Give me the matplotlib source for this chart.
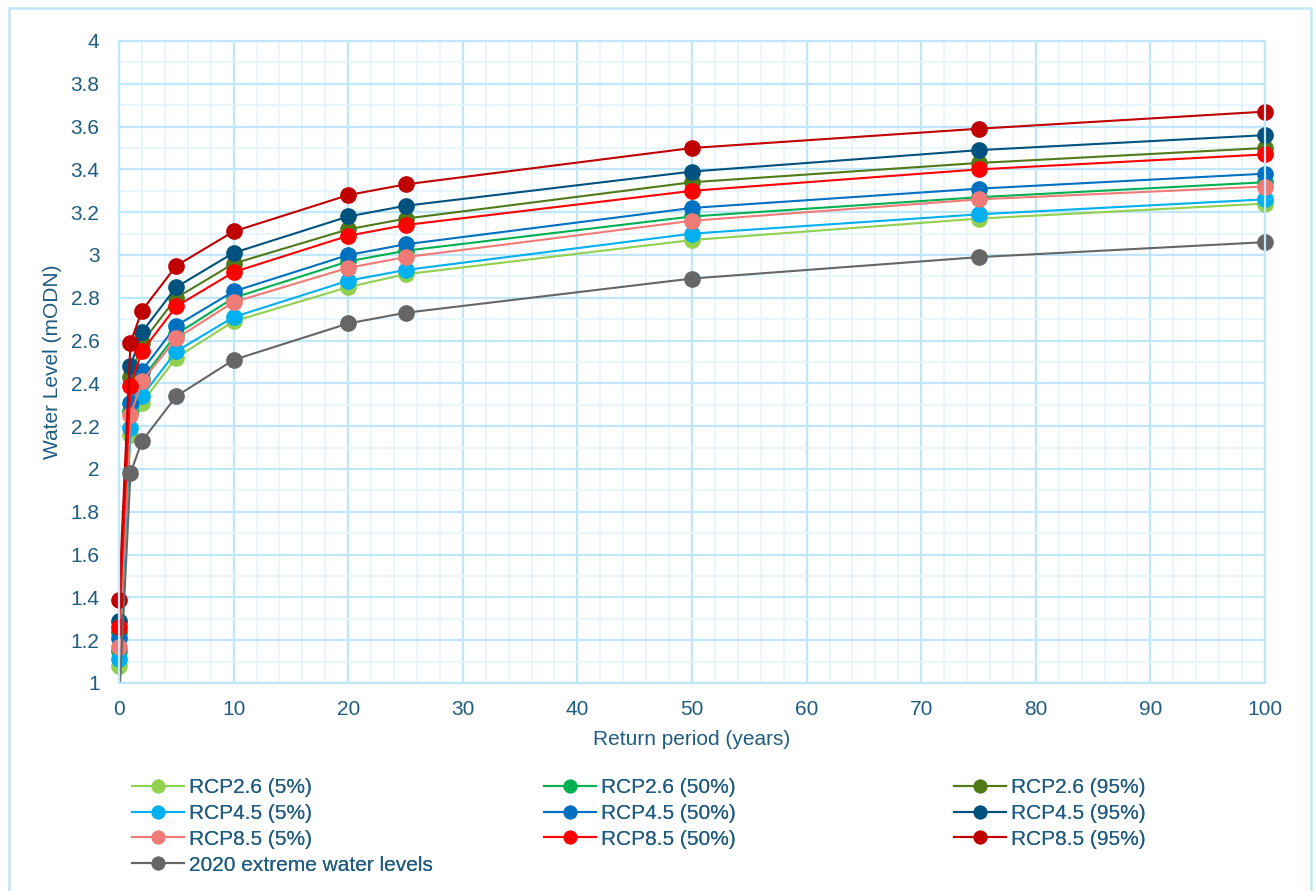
import numpy as np
import matplotlib
matplotlib.use("Agg")
import matplotlib.pyplot as plt
from matplotlib.lines import Line2D
from matplotlib.patches import Rectangle
from matplotlib.ticker import MultipleLocator, FuncFormatter

plt.rcParams['font.family'] = ['Liberation Sans', 'DejaVu Sans']

# return periods (years)
return_period = [0, 1, 2, 5, 10, 20, 25, 50, 75, 100]

# water levels (mODN)
rcp26_5 = [1.08, 2.16, 2.31, 2.52, 2.69, 2.85, 2.91, 3.07, 3.17, 3.24]
rcp26_50 = [1.15, 2.27, 2.42, 2.63, 2.80, 2.97, 3.02, 3.18, 3.27, 3.34]
rcp26_95 = [1.24, 2.43, 2.59, 2.80, 2.96, 3.12, 3.17, 3.34, 3.43, 3.50]
rcp45_5 = [1.11, 2.19, 2.34, 2.55, 2.71, 2.88, 2.93, 3.10, 3.19, 3.26]
rcp45_50 = [1.21, 2.31, 2.46, 2.67, 2.83, 3.00, 3.05, 3.22, 3.31, 3.38]
rcp45_95 = [1.29, 2.48, 2.64, 2.85, 3.01, 3.18, 3.23, 3.39, 3.49, 3.56]
rcp85_5 = [1.17, 2.25, 2.41, 2.61, 2.78, 2.94, 2.99, 3.16, 3.26, 3.32]
rcp85_50 = [1.26, 2.39, 2.55, 2.76, 2.92, 3.09, 3.14, 3.30, 3.40, 3.47]
rcp85_95 = [1.39, 2.59, 2.74, 2.95, 3.11, 3.28, 3.33, 3.50, 3.59, 3.67]
levels_2020 = [0.90, 1.98, 2.13, 2.34, 2.51, 2.68, 2.73, 2.89, 2.99, 3.06]

series = [
    ("RCP2.6 (5%)", rcp26_5, "#92D050"),
    ("RCP2.6 (50%)", rcp26_50, "#00B050"),
    ("RCP2.6 (95%)", rcp26_95, "#4F7A17"),
    ("RCP4.5 (5%)", rcp45_5, "#00B0F0"),
    ("RCP4.5 (50%)", rcp45_50, "#0070C0"),
    ("RCP4.5 (95%)", rcp45_95, "#00527E"),
    ("RCP8.5 (5%)", rcp85_5, "#F07B76"),
    ("RCP8.5 (50%)", rcp85_50, "#FF0000"),
    ("RCP8.5 (95%)", rcp85_95, "#C00000"),
    ("2020 extreme water levels", levels_2020, "#666666"),
]

text_color = "#1F5C80"
major_grid = "#BFE6F9"
minor_grid = "#E3F4FD"

W, H = 1316, 891
fig = plt.figure(figsize=(W / 100, H / 100), dpi=100)
ax = fig.add_axes([119 / W, 1 - 683 / H, (1265 - 119) / W, (683 - 41) / H])
ymin, ymax = 1, 4

for label, vals, col in series:
    x = np.array(return_period, dtype=float)
    y = np.array(vals)
    ax.plot(x, y, color=col, lw=1.5, label=label)
    # markers are not clipped at the axes edge, but points off the scale are hidden
    inside = (y >= ymin) & (y <= ymax)
    ax.plot(x[inside], y[inside], ls='none', marker='o', ms=11,
            mec=col, mfc=col, clip_on=False)

ax.set_xlim(0, 100)
ax.set_ylim(ymin, ymax)
ax.xaxis.set_major_locator(MultipleLocator(10))
ax.xaxis.set_minor_locator(MultipleLocator(2))
ax.yaxis.set_major_locator(MultipleLocator(0.2))
ax.yaxis.set_minor_locator(MultipleLocator(0.1))
ax.yaxis.set_major_formatter(FuncFormatter(lambda v, p: f"{v:g}"))
ax.grid(which='major', color=major_grid, lw=1.6)
ax.grid(which='minor', color=minor_grid, lw=1.1)
ax.set_axisbelow(True)
for s in ax.spines.values():
    s.set_color(major_grid)
    s.set_linewidth(1.6)
ax.tick_params(which='both', length=0, labelsize=15, labelcolor=text_color)
ax.tick_params(axis='x', pad=12.5)
ax.tick_params(axis='y', pad=14)

ax.set_xlabel("Return period (years)", fontsize=15, color=text_color, labelpad=8)
ax.set_ylabel("Water Level (mODN)", fontsize=15, color=text_color)
ax.yaxis.set_label_coords(-0.05, 0.5)

# legend: three columns of equal width, filled row by row
col_x = [132, 544, 954]
for c in range(3):
    items = series[c::3]
    handles = [Line2D([], [], color=col, lw=1.5, marker='o', ms=9, mec=col, mfc=col)
               for _, _, col in items]
    labels = [lab for lab, _, _ in items]
    leg = fig.legend(handles, labels, loc='upper left',
                     bbox_to_anchor=(col_x[c] / W, 1 - 778 / H),
                     frameon=False, borderpad=0, borderaxespad=0,
                     handlelength=2.5, handletextpad=0.25, labelspacing=0.33,
                     fontsize=15, labelcolor=text_color)
    fig.add_artist(leg)

# outer chart border
fig.patches.append(Rectangle((8.5 / W, -0.05), (1311 - 8.5) / W, 1.05 - 8.5 / H,
                             transform=fig.transFigure, fill=False,
                             ec=major_grid, lw=1.8))

fig.savefig("out.png", dpi=100)
